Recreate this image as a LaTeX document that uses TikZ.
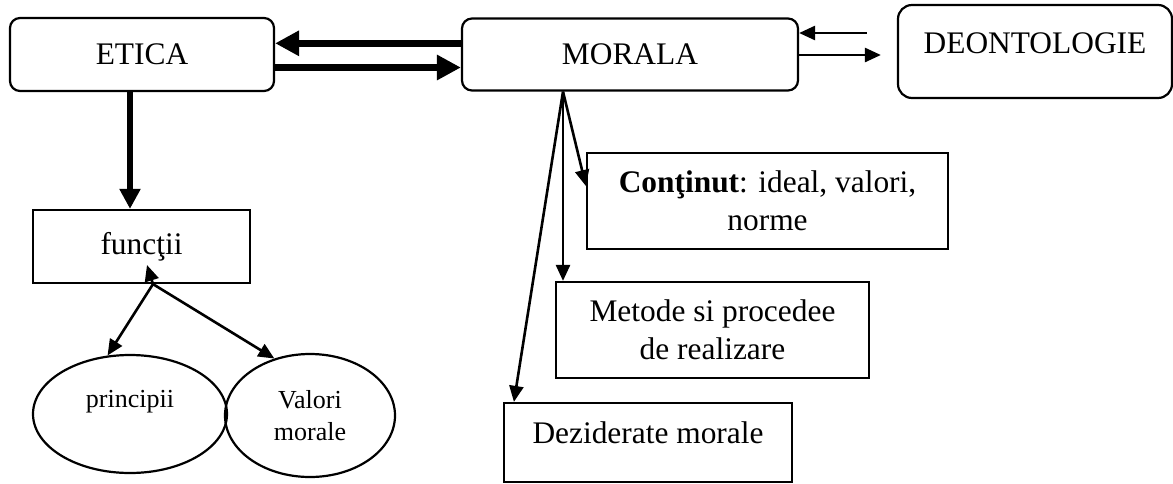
\documentclass[tikz,border=0pt]{standalone}
\usepackage{fontspec}
\setmainfont{Liberation Serif}
\usetikzlibrary{arrows.meta,shapes.geometric}

\begin{document}
\begin{tikzpicture}[x=0.5pt, y=-0.5pt, line width=1.1pt,
  >={Triangle[length=8pt,width=7pt]},
  txt/.style={font=\fontsize{15.7pt}{19pt}\selectfont, align=center, inner sep=2pt},
  rbox/.style={txt, draw, rounded corners=5pt},
  sbox/.style={txt, draw},
  oval/.style={ellipse, draw, inner sep=0pt, align=center, font=\fontsize{13pt}{16pt}\selectfont},
  fat/.style={line width=3.8pt, -{Triangle[length=12pt,width=12pt]}},
  arr/.style={line width=1.3pt, ->}]
\useasboundingbox (0,0) rectangle (1173,483);
\node[rbox, minimum width=132pt, minimum height=36.5pt] (etica) at (142,54.5) {ETICA};
\node[rbox, minimum width=168pt, minimum height=36pt] (morala) at (630,54.5) {MORALA};
\node[rbox, rounded corners=7pt, minimum width=137pt, minimum height=46.5pt, text depth=8pt] (deont) at (1035,51.5) {DEONTOLOGIE};
\node[sbox, minimum width=108.5pt, minimum height=36.5pt] (funct) at (141.5,246.5) {funcţii};
\node[oval, minimum width=97pt, minimum height=59pt, text depth=15pt] (princ) at (130,414) {principii};
\node[oval, minimum width=85pt, minimum height=61.5pt] (valori) at (310,415.5) {Valori\\morale};
\node[sbox, minimum width=180.5pt, minimum height=48pt] (contin) at (767.5,201) {\textbf{Conţinut}: ideal, valori,\\norme};
\node[sbox, minimum width=156.5pt, minimum height=48pt] (metode) at (712.5,330) {Metode si procedee\\de realizare};
\node[sbox, minimum width=144pt, minimum height=39.5pt, text depth=9.5pt] (dezid) at (648,442.5) {Deziderate morale};

\draw[fat] ([yshift=5.6pt]morala.west) -- ([yshift=5.6pt]etica.east);
\draw[fat] ([yshift=-6.5pt]etica.east) -- ([yshift=-6.5pt]morala.west);
\draw[arr] ([shift={(-15pt,9.25pt)}]deont.west) -- ([yshift=10.75pt]morala.east);
\draw[arr] ([yshift=-0.25pt]morala.east) -- ([shift={(-8pt,-1.75pt)}]deont.west);
\draw[fat, line width=3.4pt, -{Triangle[length=10pt,width=10pt]}] ([xshift=-6pt]etica.south) -- ([xshift=-5.75pt]funct.north);

\coordinate (fork) at ([xshift=5.75pt]funct.south);
\coordinate (forktip) at (147,265);
\draw[arr] (fork) -- (princ.111);
\draw[arr] (fork) -- (valori.122);
\draw[arr] (fork) -- (forktip);

\coordinate (fan) at ([xshift=-33.5pt]morala.south);
\draw[arr] (fan) -- ([yshift=7.5pt]contin.west);
\draw[arr] (fan) -- (fan |- metode.north);
\draw[arr] (fan) -- ([xshift=5.5pt]dezid.north west);
\end{tikzpicture}
\end{document}
